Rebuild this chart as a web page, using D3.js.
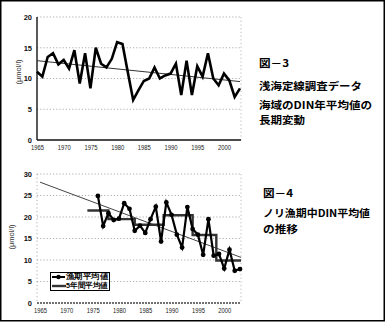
<!DOCTYPE html>
<html><head><meta charset="utf-8">
<script src="https://cdn.jsdelivr.net/npm/d3@7"></script>
<style>
body{margin:0;background:#fff;}
svg{display:block;}
text{font-family:"Liberation Sans",Arial,sans-serif;}
.jp{font-family:"Noto Sans CJK JP",sans-serif;font-weight:bold;}
</style></head><body>
<svg id="c" width="386" height="322"></svg>
<script>
// ---- Data ----
const years1 = [1965,1966,1967,1968,1969,1970,1971,1972,1973,1974,1975,1976,1977,1978,1979,1980,1981,1982,1983,1984,1985,1986,1987,1988,1989,1990,1991,1992,1993,1994,1995,1996,1997,1998,1999,2000,2001,2002,2003];
const din1 = [11.1,10.3,13.5,14.1,12.3,13.0,11.6,14.6,9.2,14.1,8.4,15.0,12.4,11.8,13.2,15.9,15.6,11.0,6.5,8.1,9.6,10.0,11.8,10.0,10.5,10.8,12.4,7.3,12.9,7.3,12.0,10.3,14.1,10.0,8.9,10.8,9.7,7.0,8.4];
const trend1Years = [1965, 2003];
const trend1Vals = [12.9, 9.5];

const years2 = [1976,1977,1978,1979,1980,1981,1982,1983,1984,1985,1986,1987,1988,1989,1990,1991,1992,1993,1994,1995,1996,1997,1998,1999,2000,2001,2002,2003];
const din2 = [24.9,17.9,20.9,19.3,19.6,23.2,21.9,16.8,18.0,16.3,19.5,22.4,14.3,23.4,20.5,15.9,12.9,22.3,17.2,15.9,11.2,19.5,11.0,11.4,8.0,12.4,7.5,7.9];
const avgYears = [1974,1978,1983,1988.5,1994,1998.5,2003.2];
const avgVals = [21.5,19.5,18.2,20.4,15.8,9.9,9.9];
const trend2Years = [1965, 2003.2];
const trend2Vals = [28.1, 10.6];

const xTicks = [1965,1970,1975,1980,1985,1990,1995,2000];
const yTicks1 = [0,5,10,15,20];
const yTicks2 = [0,5,10,15,20,25,30];
const unitLabel = "(μmol/l)";
const legendLabels = ["漁期平均値","5年間平均値"];
const caption3 = ["図－3","浅海定線調査データ","海域のDIN年平均値の","長期変動"];
const caption4 = ["図－4","ノリ漁期中DIN平均値","の推移"];

// ---- Drawing ----
const svg = d3.select("#c");
svg.append("rect").attr("x",0.75).attr("y",0.75).attr("width",383.5).attr("height",320)
  .attr("fill","none").attr("stroke","#000").attr("stroke-width",1.5);

function frame(x, y, yTicks, opts){
  const g = svg.append("g");
  const [x0,x1] = x.range(); const [yb,yt] = y.range();
  g.selectAll(".gl").data(yTicks.filter(d=>d>0)).join("line")
    .attr("x1",opts.axisX).attr("x2",x1+1).attr("y1",d=>y(d)).attr("y2",d=>y(d))
    .attr("stroke","#9a9a9a").attr("stroke-width",0.8).attr("stroke-dasharray","1.2,2");
  g.append("line").attr("x1",x1+1).attr("x2",x1+1).attr("y1",yt).attr("y2",yb)
    .attr("stroke","#aaa").attr("stroke-width",0.8).attr("stroke-dasharray","1.2,2.5");
  g.append("line").attr("x1",opts.axisX).attr("x2",opts.axisX).attr("y1",yt).attr("y2",yb)
    .attr("stroke",opts.leftColor).attr("stroke-width",opts.leftW).attr("stroke-dasharray",opts.leftDash);
  g.append("line").attr("x1",opts.axisX).attr("x2",x1+1).attr("y1",yb).attr("y2",yb)
    .attr("stroke",opts.botColor).attr("stroke-width",opts.botW).attr("stroke-dasharray",opts.botDash);
  const ya = d3.axisLeft(y).tickValues(yTicks).tickSize(0).tickPadding(0).tickFormat(d3.format("d"));
  const yg = g.append("g").attr("transform",`translate(${opts.axisX-5},0)`).call(ya);
  yg.select(".domain").remove();
  yg.selectAll("text").attr("font-size",7.5).attr("fill","#111").attr("font-weight","bold").attr("font-family","Liberation Sans, Arial");
  const xa = d3.axisBottom(x).tickValues(xTicks).tickSize(0).tickPadding(0).tickFormat(d3.format("d"));
  const xg = g.append("g").attr("transform",`translate(0,${yb+5})`).call(xa);
  xg.select(".domain").remove();
  xg.selectAll("text").attr("font-size",7).attr("fill","#222").attr("font-family","Liberation Sans, Arial").attr("textLength",13).attr("lengthAdjust","spacingAndGlyphs");
  g.append("text").attr("transform",`translate(${opts.unitX},${opts.unitY}) rotate(-90)`)
    .attr("text-anchor","middle").attr("dominant-baseline","middle")
    .attr("font-size",7.5).attr("fill","#333").text(unitLabel);
}

// Top chart
const x1s = d3.scaleLinear().domain([1965,2003]).range([37,240]);
const y1s = d3.scaleLinear().domain([0,20]).range([140,17]);
frame(x1s, y1s, yTicks1, {axisX:37, leftColor:"#000", leftW:1.3, leftDash:null, botColor:"#111", botW:1.5, botDash:null, unitX:19, unitY:72});
svg.append("path").datum(trend1Years.map((d,i)=>[d,trend1Vals[i]]))
  .attr("d",d3.line().x(d=>x1s(d[0])).y(d=>y1s(d[1])))
  .attr("fill","none").attr("stroke","#333").attr("stroke-width",1);
svg.append("path").datum(years1.map((d,i)=>[d,din1[i]]))
  .attr("d",d3.line().x(d=>x1s(d[0])).y(d=>y1s(d[1])))
  .attr("fill","none").attr("stroke","#000").attr("stroke-width",2.6).attr("stroke-linejoin","miter");

// Bottom chart
const x2s = d3.scaleLinear().domain([1965,2003]).range([40,240]);
const y2s = d3.scaleLinear().domain([0,30]).range([303,174]);
frame(x2s, y2s, yTicks2, {axisX:37, leftColor:"#999", leftW:0.8, leftDash:"1.2,2.5", botColor:"#444", botW:1.3, botDash:"2,1", unitX:12, unitY:237});
svg.append("path").datum(trend2Years.map((d,i)=>[d,trend2Vals[i]]))
  .attr("d",d3.line().x(d=>x2s(d[0])).y(d=>y2s(d[1])))
  .attr("fill","none").attr("stroke","#444").attr("stroke-width",1);
svg.append("path").datum(avgYears.map((d,i)=>[d,avgVals[i]]))
  .attr("d",d3.line().curve(d3.curveStepAfter).x(d=>x2s(d[0])).y(d=>y2s(d[1])))
  .attr("fill","none").attr("stroke","#333").attr("stroke-width",2.4);
svg.append("path").datum(years2.map((d,i)=>[d,din2[i]]))
  .attr("d",d3.line().x(d=>x2s(d[0])).y(d=>y2s(d[1])))
  .attr("fill","none").attr("stroke","#000").attr("stroke-width",2.2);
svg.append("g").selectAll("circle").data(years2.map((d,i)=>[d,din2[i]])).join("circle")
  .attr("cx",d=>x2s(d[0])).attr("cy",d=>y2s(d[1])).attr("r",2.4).attr("fill","#000");

// Legend
const lg = svg.append("g");
lg.append("rect").attr("x",50.5).attr("y",272.5).attr("width",59).attr("height",18)
  .attr("fill","#fff").attr("stroke","#000").attr("stroke-width",1);
lg.append("line").attr("x1",52).attr("x2",65).attr("y1",277).attr("y2",277).attr("stroke","#000").attr("stroke-width",2);
lg.append("circle").attr("cx",58.5).attr("cy",277).attr("r",2.2).attr("fill","#000");
lg.append("line").attr("x1",52).attr("x2",66).attr("y1",286).attr("y2",286).attr("stroke","#333").attr("stroke-width",2.4);
lg.selectAll("text.lt").data(legendLabels).join("text").attr("class","lt")
  .attr("x",66).attr("y",(d,i)=>277+9*i).attr("dominant-baseline","middle").attr("font-size",7.5)
  .attr("font-family","Noto Sans CJK JP").attr("font-weight","bold").attr("fill","#000")
  .attr("textLength",42).attr("lengthAdjust","spacingAndGlyphs").text(d=>d);

// Captions
function caption(lines, x, ys, widths){
  svg.append("g").selectAll("text").data(lines).join("text").attr("class","jp")
    .attr("font-size",10.2).attr("fill","#000")
    .attr("x",x).attr("y",(d,i)=>ys[i]+4)
    .attr("textLength",(d,i)=>widths[i]).attr("lengthAdjust","spacingAndGlyphs")
    .text(d=>d);
}
caption(caption3, 259, [63,86,105,120], [30,103,113,46]);
caption(caption4, 263, [193,213,229], [30,107,35]);
</script></body></html>
